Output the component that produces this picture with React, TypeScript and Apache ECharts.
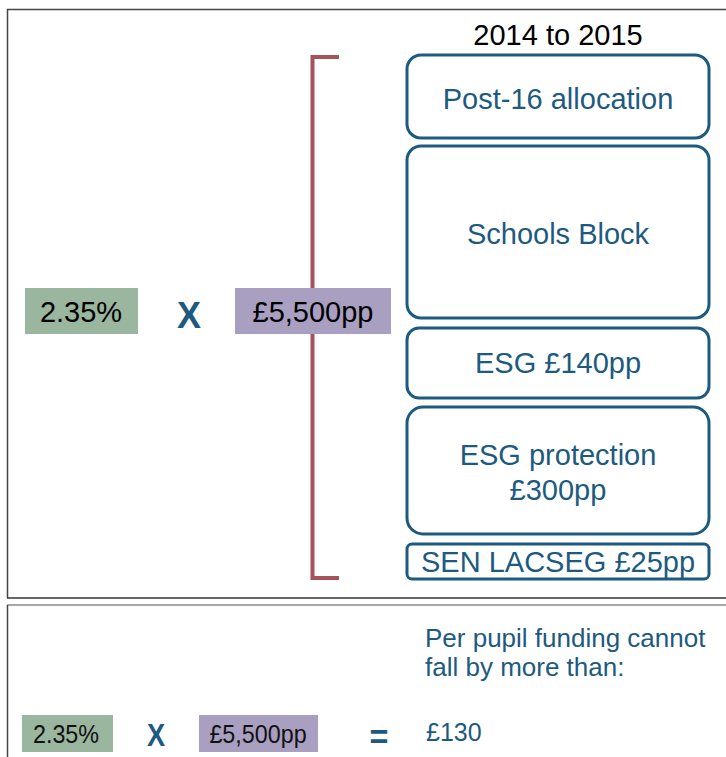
import React, { useEffect, useRef } from "react";
import * as echarts from "echarts";

const title = "2014 to 2015";
const blockLabels = ["Post-16 allocation", "Schools Block", "ESG £140pp", "ESG protection\n£300pp", "SEN LACSEG £25pp"];
const blockTops = [55, 146, 328, 407, 544];
const blockBottoms = [138, 318, 398, 534, 579];
const blockRadius = [14, 14, 12, 16, 5];
const rateLabel = "2.35%";
const perPupilLabel = "£5,500pp";
const timesLabel = "X";
const equalsLabel = "=";
const resultLabel = "£130";
const noteLines = ["Per pupil funding cannot", "fall by more than:"];

const BLUE = "#1d5a80";
const GREEN = "#9ab69e";
const PURPLE = "#a99fc0";
const RED = "#a5525a";
const FONT = "Liberation Sans, Arial, sans-serif";

export default function App() {
  const ref = useRef<HTMLDivElement>(null);
  useEffect(() => {
    document.body.style.margin = "0";
    const chart = echarts.init(ref.current!, null, { renderer: "svg" });
    const g: any[] = [];
    // panel borders
    g.push({ type: "line", shape: { x1: 7, y1: 9.5, x2: 726, y2: 9.5 }, style: { stroke: "#444", lineWidth: 1.5 } });
    g.push({ type: "line", shape: { x1: 7.5, y1: 9, x2: 7.5, y2: 598 }, style: { stroke: "#444", lineWidth: 1.5 } });
    g.push({ type: "line", shape: { x1: 7, y1: 598, x2: 726, y2: 598 }, style: { stroke: "#333", lineWidth: 1.5 } });
    g.push({ type: "line", shape: { x1: 7, y1: 605, x2: 726, y2: 605 }, style: { stroke: "#888", lineWidth: 1.5 } });
    g.push({ type: "line", shape: { x1: 7.5, y1: 605, x2: 7.5, y2: 757 }, style: { stroke: "#444", lineWidth: 1.5 } });
    // bracket
    g.push({
      type: "polyline",
      shape: { points: [[339, 57], [312.5, 57], [312.5, 578], [339, 578]] },
      style: { stroke: RED, lineWidth: 4, fill: null },
    });
    // title
    g.push({ type: "text", x: 558, y: 35, style: { text: title, fill: "#000", font: `29px ${FONT}`, align: "center", verticalAlign: "middle" } });
    // blocks
    const textCenters = [98, 233, 362, 471, 561];
    blockLabels.forEach((lab, i) => {
      g.push({
        type: "rect",
        shape: { x: 407, y: blockTops[i], width: 302, height: blockBottoms[i] - blockTops[i], r: blockRadius[i] },
        style: { fill: "#fff", stroke: BLUE, lineWidth: 3 },
      });
      g.push({
        type: "text",
        x: 558,
        y: textCenters[i] + 1,
        style: { text: lab, fill: BLUE, font: `29px ${FONT}`, align: "center", verticalAlign: "middle", lineHeight: 35 },
      });
    });
    // top formula
    g.push({ type: "rect", shape: { x: 25, y: 288, width: 113, height: 46 }, style: { fill: GREEN } });
    g.push({ type: "text", x: 81, y: 312, style: { text: rateLabel, fill: "#000", font: `29px ${FONT}`, align: "center", verticalAlign: "middle" } });
    g.push({ type: "text", x: 189, y: 315, style: { text: timesLabel, fill: BLUE, font: `bold 36px ${FONT}`, align: "center", verticalAlign: "middle" } });
    g.push({ type: "rect", shape: { x: 235, y: 288, width: 156, height: 46 }, style: { fill: PURPLE } });
    g.push({ type: "text", x: 313, y: 312, style: { text: perPupilLabel, fill: "#000", font: `29px ${FONT}`, align: "center", verticalAlign: "middle" } });
    // bottom formula
    g.push({ type: "rect", shape: { x: 22, y: 715, width: 91, height: 37 }, style: { fill: GREEN } });
    g.push({ type: "text", x: 66, y: 733, scaleX: 0.88, style: { text: rateLabel, fill: "#111", font: `26.5px ${FONT}`, align: "center", verticalAlign: "middle" } });
    g.push({ type: "text", x: 156, y: 735, scaleX: 0.85, style: { text: timesLabel, fill: BLUE, font: `bold 32px ${FONT}`, align: "center", verticalAlign: "middle" } });
    g.push({ type: "rect", shape: { x: 199, y: 715, width: 119, height: 37 }, style: { fill: PURPLE } });
    g.push({ type: "text", x: 258, y: 733, scaleX: 0.88, style: { text: perPupilLabel, fill: "#111", font: `26.5px ${FONT}`, align: "center", verticalAlign: "middle" } });
    g.push({ type: "text", x: 379, y: 736, scaleX: 0.9, style: { text: equalsLabel, fill: BLUE, font: `bold 36px ${FONT}`, align: "center", verticalAlign: "middle" } });
    g.push({ type: "text", x: 426, y: 732, style: { text: resultLabel, fill: BLUE, font: `25px ${FONT}`, align: "left", verticalAlign: "middle" } });
    g.push({
      type: "text",
      x: 425,
      y: 652,
      style: { text: noteLines.join("\n"), fill: BLUE, font: `26px ${FONT}`, align: "left", verticalAlign: "middle", lineHeight: 29 },
    });
    chart.setOption({ animation: false, backgroundColor: "#fff", graphic: { elements: g } });
    return () => chart.dispose();
  }, []);
  return <div ref={ref} style={{ width: 726, height: 757 }} />;
}
